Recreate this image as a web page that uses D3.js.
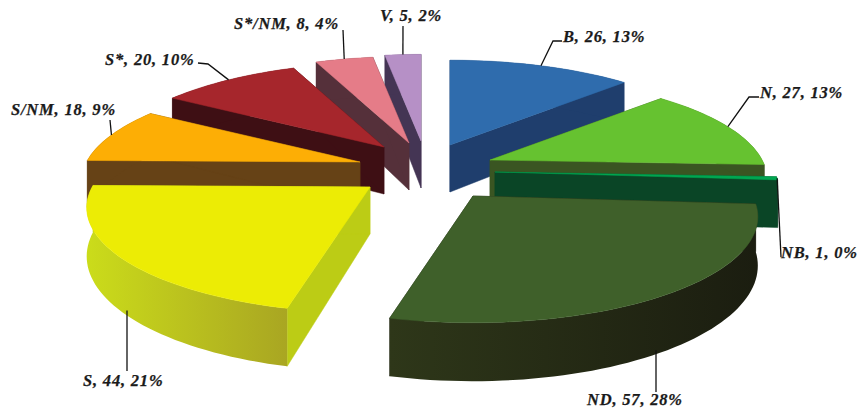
<!DOCTYPE html>
<html>
<head>
<meta charset="utf-8">
<script src="https://cdn.jsdelivr.net/npm/d3@7"></script>
<style>
html,body{margin:0;padding:0;background:#fff;overflow:hidden}
svg{display:block}
text{font-family:"Liberation Serif",serif;font-weight:bold;font-style:italic;fill:#1a1a1a;stroke:#1a1a1a;stroke-width:.25px;letter-spacing:.8px}
</style>
</head>
<body>
<svg id="chart" width="860" height="410"></svg>
<script>
// Sector counts and the percentages printed beside them
const categories = ["B","N","NB","ND","S","S/NM","S*","S*/NM","V"];
const counts     = [26,27,1,57,44,18,20,8,5];
const percents   = [13,13,0,28,21,9,10,4,2];

// Fill colours for the top faces and the darker side walls
const topColors  = ["#2f6cad","#66c230","#00a651","#3f602a","#ecec05","#fdae05","#a6262c","#e57c88","#b690c6"];
const wallColors = ["#1f3e6d","#3a5522","#0a4526","#1e2113","#bccc15","#664216","#3e0f14","#55303a","#443554"];
// Side walls of the two big slices are shaded left to right
const wallRamps  = {ND:["#2e3719","#1b1d10"], S:["#cbdc1a","#a9a622"]};

// Back-to-front painting order
const paintOrder = ["V","S*/NM","S*","B","N","NB","S/NM","ND","S"];

// Where each exploded slice sits on the page, and how its label is placed
const placement = {
  "B":     {apex:[450,145], k:.975, label:[563,42],  leader:[[553,41],[562,41]]},
  "N":     {apex:[490,160], k:.955, label:[760,98],  leader:[[749,97],[759,97]]},
  "NB":    {apex:[495,172], k:.98,  label:[781,258], leader:[[781,257]]},
  "ND":    {apex:[473,196], k:.98,  label:[587,405], leader:[[656,392]], onWall:true},
  "S":     {apex:[370,187], k:.975, label:[83,386],  leader:[[127,371]], onWall:true},
  "S/NM":  {apex:[360,162], k:.96,  label:[11,115],  leader:[[110,120]]},
  "S*":    {apex:[384,147], k:.97,  label:[105,65],  leader:[[208,64],[198,63]]},
  "S*/NM": {apex:[409,143], k:1,    label:[234,29],  leader:[[343,30]]},
  "V":     {apex:[421,141], k:1,    label:[380,21],  leader:[[403,26]]}
};

// Tilted-disc projection: far edge shrinks, near edge grows
const radiusX = 285, radiusY = 104, thickness = 47, persp = 0.2;
function project(theta, r) {
  const s = Math.sin(theta), c = Math.cos(theta);
  const w = 1 + persp * c * r;
  return {x: r * s * radiusX / w, y: -r * c * radiusY / w, d: thickness / w};
}

const svg = d3.select("#chart");
const defs = svg.append("defs");
const pie = d3.pie().sort(null).value(d => d.count);
const rows = categories.map((name, i) => ({name, count: counts[i], pct: percents[i], top: topColors[i], wall: wallColors[i]}));
const arcs = pie(rows);
const byName = new Map(arcs.map(a => [a.data.name, a]));
const line = d3.line().x(p => p[0]).y(p => p[1]);

function arcPoints(a, spot, lower) {
  const n = Math.max(4, Math.ceil((a.endAngle - a.startAngle) / 0.03));
  return d3.range(n + 1).map(i => {
    const t = a.startAngle + (a.endAngle - a.startAngle) * i / n;
    const p = project(t, spot.k);
    return [spot.apex[0] + p.x, spot.apex[1] + p.y + (lower ? p.d : 0)];
  });
}

paintOrder.forEach(name => {
  const a = byName.get(name), spot = placement[name];
  const g = svg.append("g").attr("class", "slice");
  const apex = spot.apex, apexLow = [apex[0], apex[1] + thickness];
  const upper = arcPoints(a, spot, false), lower = arcPoints(a, spot, true);

  // Two flat cut faces
  [[upper[0], lower[0]], [upper[upper.length - 1], lower[lower.length - 1]]].forEach(([u, l]) => {
    g.append("path").attr("d", line([apex, u, l, apexLow]) + "Z")
      .attr("fill", a.data.wall).attr("stroke", a.data.wall).attr("stroke-width", .5);
  });

  // Curved outer wall
  let wallFill = a.data.wall;
  if (wallRamps[name]) {
    const xs = upper.map(p => p[0]);
    const id = "ramp" + a.index;
    const grad = defs.append("linearGradient").attr("id", id).attr("gradientUnits", "userSpaceOnUse")
      .attr("x1", d3.min(xs)).attr("x2", d3.max(xs)).attr("y1", 0).attr("y2", 0);
    grad.append("stop").attr("offset", 0).attr("stop-color", wallRamps[name][0]);
    grad.append("stop").attr("offset", 1).attr("stop-color", wallRamps[name][1]);
    wallFill = `url(#${id})`;
  }
  g.append("path").attr("d", line(upper.concat(lower.slice().reverse())) + "Z")
    .attr("fill", wallFill);

  // Top face
  g.append("path").attr("d", line([apex].concat(upper)) + "Z")
    .attr("fill", a.data.top).attr("stroke", a.data.top).attr("stroke-width", .5);
});

// Leader lines run from the middle of each slice's rim out to its label
const leaders = svg.append("g").attr("fill", "none").attr("stroke", "#111").attr("stroke-width", 1.3);
arcs.forEach(a => {
  const spot = placement[a.data.name];
  const p = project((a.startAngle + a.endAngle) / 2, spot.k);
  const first = [spot.apex[0] + p.x, spot.apex[1] + p.y + (spot.onWall ? p.d : 0)];
  if (spot.onWall) first[0] = spot.leader[0][0];
  leaders.append("path").attr("d", line([first].concat(spot.leader)));
});

svg.append("g").selectAll("text").data(arcs).join("text")
  .attr("x", d => placement[d.data.name].label[0])
  .attr("y", d => placement[d.data.name].label[1])
  .attr("font-size", 16.5)
  .text(d => `${d.data.name}, ${d.data.count}, ${d.data.pct}%`);
</script>
</body>
</html>
